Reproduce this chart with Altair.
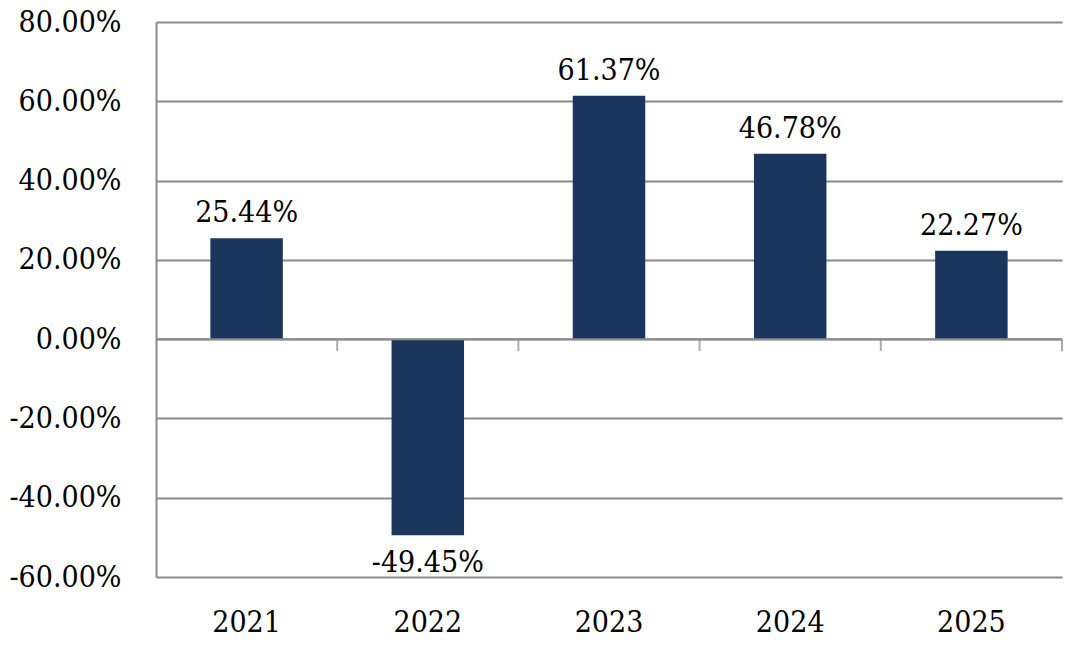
import altair as alt
import pandas as pd

years = ["2021", "2022", "2023", "2024", "2025"]
returns = [0.2544, -0.4945, 0.6137, 0.4678, 0.2227]
y_ticks = [-0.6, -0.4, -0.2, 0.0, 0.2, 0.4, 0.6, 0.8]

df = pd.DataFrame({"year": years, "ret": returns})

FONT = "DejaVu Serif Condensed"
FS = 30
GRAY = "#8a8a8a"
BAR = "#1b365d"

xscale = alt.Scale(domain=years, paddingInner=0, paddingOuter=0)
yscale = alt.Scale(domain=[-0.6, 0.8], nice=False, zero=False)

base = alt.Chart(df).transform_calculate(
    label="replace(format(datum.ret, '.2%'), '\u2212', '-')"
)

bars = base.mark_bar(color=BAR, width=alt.RelativeBandSize(0.4)).encode(
    x=alt.X("year:N", scale=xscale, sort=years,
            axis=alt.Axis(title=None, labelAngle=0, domain=False, ticks=False, tickSize=0,
                          grid=False, labelBaseline="alphabetic", labelPadding=54,
                          labelFont=FONT, labelFontSize=FS, labelColor="#000000")),
    y=alt.Y("ret:Q", scale=yscale,
            axis=alt.Axis(title=None, values=y_ticks, format=".2%", grid=True,
                          labelExpr="replace(datum.label, '\u2212', '-')",
                          gridColor=GRAY, gridWidth=2, domain=True, domainColor=GRAY,
                          domainWidth=2, ticks=False, tickSize=0, labelPadding=35,
                          labelFont=FONT, labelFontSize=FS, labelColor="#000000")),
)

zero = alt.Chart(pd.DataFrame({"z": [0.0]})).mark_rule(color=GRAY, strokeWidth=2).encode(
    y=alt.Y("z:Q", scale=yscale)
)

ticks = base.mark_tick(color=GRAY, thickness=2, size=12, yOffset=6, orient="vertical").encode(
    x=alt.X("year:N", scale=xscale, sort=years, bandPosition=1),
    y=alt.datum(0.0),
)

pos_labels = base.transform_filter("datum.ret >= 0").mark_text(
    font=FONT, fontSize=FS, baseline="alphabetic", dy=-16, color="#000000"
).encode(
    x=alt.X("year:N", scale=xscale, sort=years),
    y=alt.Y("ret:Q", scale=yscale),
    text=alt.Text("label:N"),
)

neg_labels = base.transform_filter("datum.ret < 0").mark_text(
    font=FONT, fontSize=FS, baseline="alphabetic", dy=37, color="#000000"
).encode(
    x=alt.X("year:N", scale=xscale, sort=years),
    y=alt.Y("ret:Q", scale=yscale),
    text=alt.Text("label:N"),
)

chart = alt.layer(bars, zero, ticks, pos_labels, neg_labels).properties(
    width=906, height=555,
    autosize=alt.AutoSizeParams(type="none"),
    padding={"left": 148, "top": 14, "right": 5, "bottom": 60},
).configure_view(strokeWidth=0)

chart.save("out.html", embed_options={"renderer": "svg", "actions": False})
